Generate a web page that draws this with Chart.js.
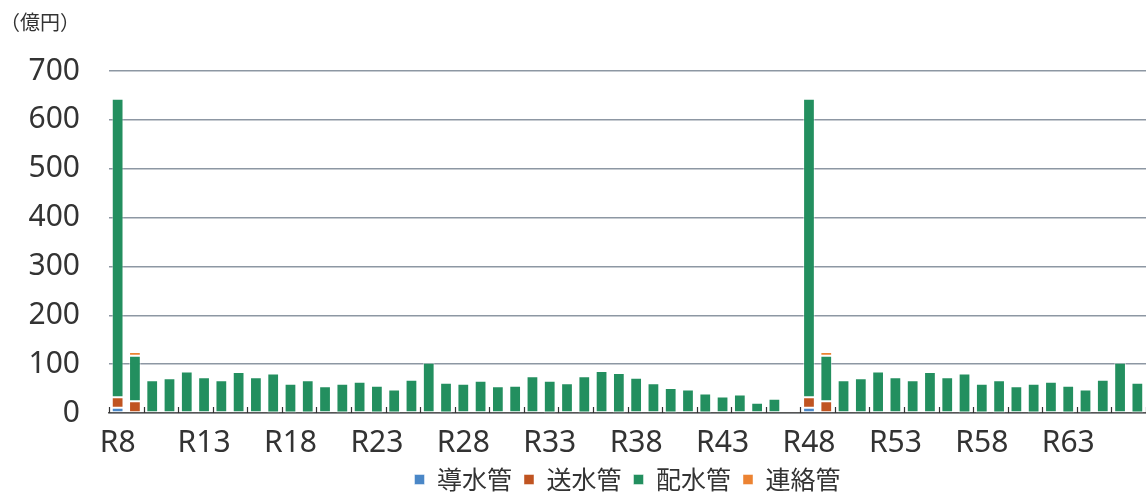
<!DOCTYPE html>
<html>
<head>
<meta charset="utf-8">
<script src="https://cdn.jsdelivr.net/npm/chart.js@4/dist/chart.umd.min.js"></script>
<style>
  html, body { margin: 0; padding: 0; background: #fff; }
  #wrap { width: 1146px; height: 493px; }
</style>
</head>
<body>
<div id="wrap"><canvas id="pipeChart"></canvas></div>
<script>
// categories R8 .. R67
const years = [];
for (let y = 8; y <= 67; y++) years.push('R' + y);

// values (億円); R48-R67 repeat R8-R27
const donsuikan = [11, 0, 0, 0, 0, 0, 0, 0, 0, 1, 1, 1, 0, 1, 0, 0, 0, 0, 0, 1,
                   0, 0, 0, 0, 0, 0, 0, 1, 0, 1, 0, 0, 1, 0, 1, 0, 0, 0, 0, 0,
                   11, 0, 0, 0, 0, 0, 0, 0, 0, 1, 1, 1, 0, 1, 0, 0, 0, 0, 0, 1];
const sosuikan  = [21, 24, 0, 0, 0, 0, 0, 0, 0, 0, 0, 0, 0, 0, 0, 1, 1, 0, 0, 0,
                   0, 0, 0, 0, 0, 1, 0, 0, 0, 0, 0, 0, 0, 0, 0, 0, 0, 0, 0, 0,
                   21, 24, 0, 0, 0, 0, 0, 0, 0, 0, 0, 0, 0, 0, 0, 1, 1, 0, 0, 0];
const haisuikan = [611, 93, 67, 71, 85, 73, 67, 84, 73, 80, 59, 66, 55, 59, 64, 55, 47, 68, 103, 61,
                   60, 66, 55, 56, 75, 65, 61, 74, 86, 81, 72, 61, 50, 48, 39, 34, 38, 21, 29, 0,
                   611, 93, 67, 71, 85, 73, 67, 84, 73, 80, 59, 66, 55, 59, 64, 55, 47, 68, 103, 61];
const renrakukan = [0, 8, 0, 0, 0, 0, 0, 0, 0, 0, 0, 0, 0, 0, 0, 0, 0, 0, 0, 0,
                    0, 0, 0, 0, 0, 0, 0, 0, 0, 0, 0, 0, 0, 0, 0, 0, 0, 0, 0, 0,
                    0, 8, 0, 0, 0, 0, 0, 0, 0, 0, 0, 0, 0, 0, 0, 0, 0, 0, 0, 0];

const seriesNames = ['導水管', '送水管', '配水管', '連絡管'];
const seriesColors = ['#4a87c7', '#c05421', '#238f5f', '#ec8332'];
const yTicks = [0, 100, 200, 300, 400, 500, 600, 700];

const tickFont = { family: "'Noto Sans', sans-serif", size: 30 };
const jpFont = "'Noto Sans CJK JP', 'Noto Sans', sans-serif";

function makeSet(i, values) {
    return {
        label: seriesNames[i],
        data: values,
        backgroundColor: seriesColors[i],
        borderColor: 'rgba(255,255,255,0.45)',
        borderWidth: 1,
        borderSkipped: false,
        barPercentage: 0.68,
        categoryPercentage: 1.0
    };
}

// small inner tick marks on the x axis, every 2 categories
const innerTicks = {
    id: 'innerTicks',
    afterDatasetsDraw(chart) {
        const xs = chart.scales.x;
        const ctx = chart.ctx;
        const step = xs.width / years.length;
        ctx.save();
        ctx.strokeStyle = '#333';
        ctx.lineWidth = 1.2;
        for (let i = 0; i <= years.length; i += 2) {
            const px = Math.round(xs.left + i * step) + 0.5;
            ctx.beginPath();
            ctx.moveTo(px, xs.top - 6);
            ctx.lineTo(px, xs.top);
            ctx.stroke();
        }
        ctx.restore();
    }
};

const ctx = document.getElementById('pipeChart').getContext('2d');
const pipeChart = new Chart(ctx, {
    type: 'bar',
    data: {
        labels: years,
        datasets: [
            makeSet(0, donsuikan),
            makeSet(1, sosuikan),
            makeSet(2, haisuikan),
            makeSet(3, renrakukan)
        ]
    },
    plugins: [innerTicks],
    options: {
        responsive: true,
        maintainAspectRatio: false,
        animation: false,
        layout: { padding: { left: 0, right: 0, top: 0, bottom: -9 } },
        plugins: {
            title: {
                display: true,
                text: '（億円）',
                align: 'start',
                color: '#333',
                font: { family: jpFont, size: 20, weight: 'normal' },
                padding: { top: 10, bottom: 37 }
            },
            legend: {
                position: 'bottom',
                fullSize: false,
                labels: {
                    boxWidth: 10,
                    boxHeight: 10,
                    padding: 12,
                    color: '#333',
                    font: { family: jpFont, size: 25 }
                }
            },
            tooltip: { enabled: false }
        },
        scales: {
            x: {
                stacked: true,
                grid: { display: false },
                border: { display: true, color: '#555', width: 1.5 },
                afterFit: function (scale) {
                    scale.height = 42;
                },
                ticks: {
                    color: '#333',
                    font: tickFont,
                    autoSkip: false,
                    maxRotation: 0,
                    padding: 4,
                    callback: function (val, idx) {
                        return idx % 5 === 0 ? years[idx] : '';
                    }
                }
            },
            y: {
                stacked: true,
                min: 0,
                max: 700,
                afterBuildTicks: function (scale) {
                    scale.ticks = yTicks.map(v => ({ value: v }));
                },
                afterFit: function (scale) {
                    scale.width = 109;
                },
                grid: {
                    color: '#8d97a3',
                    lineWidth: 1.4,
                    drawTicks: false
                },
                border: { display: false },
                ticks: {
                    color: '#333',
                    font: tickFont,
                    padding: 29
                }
            }
        }
    }
});
</script>
</body>
</html>
